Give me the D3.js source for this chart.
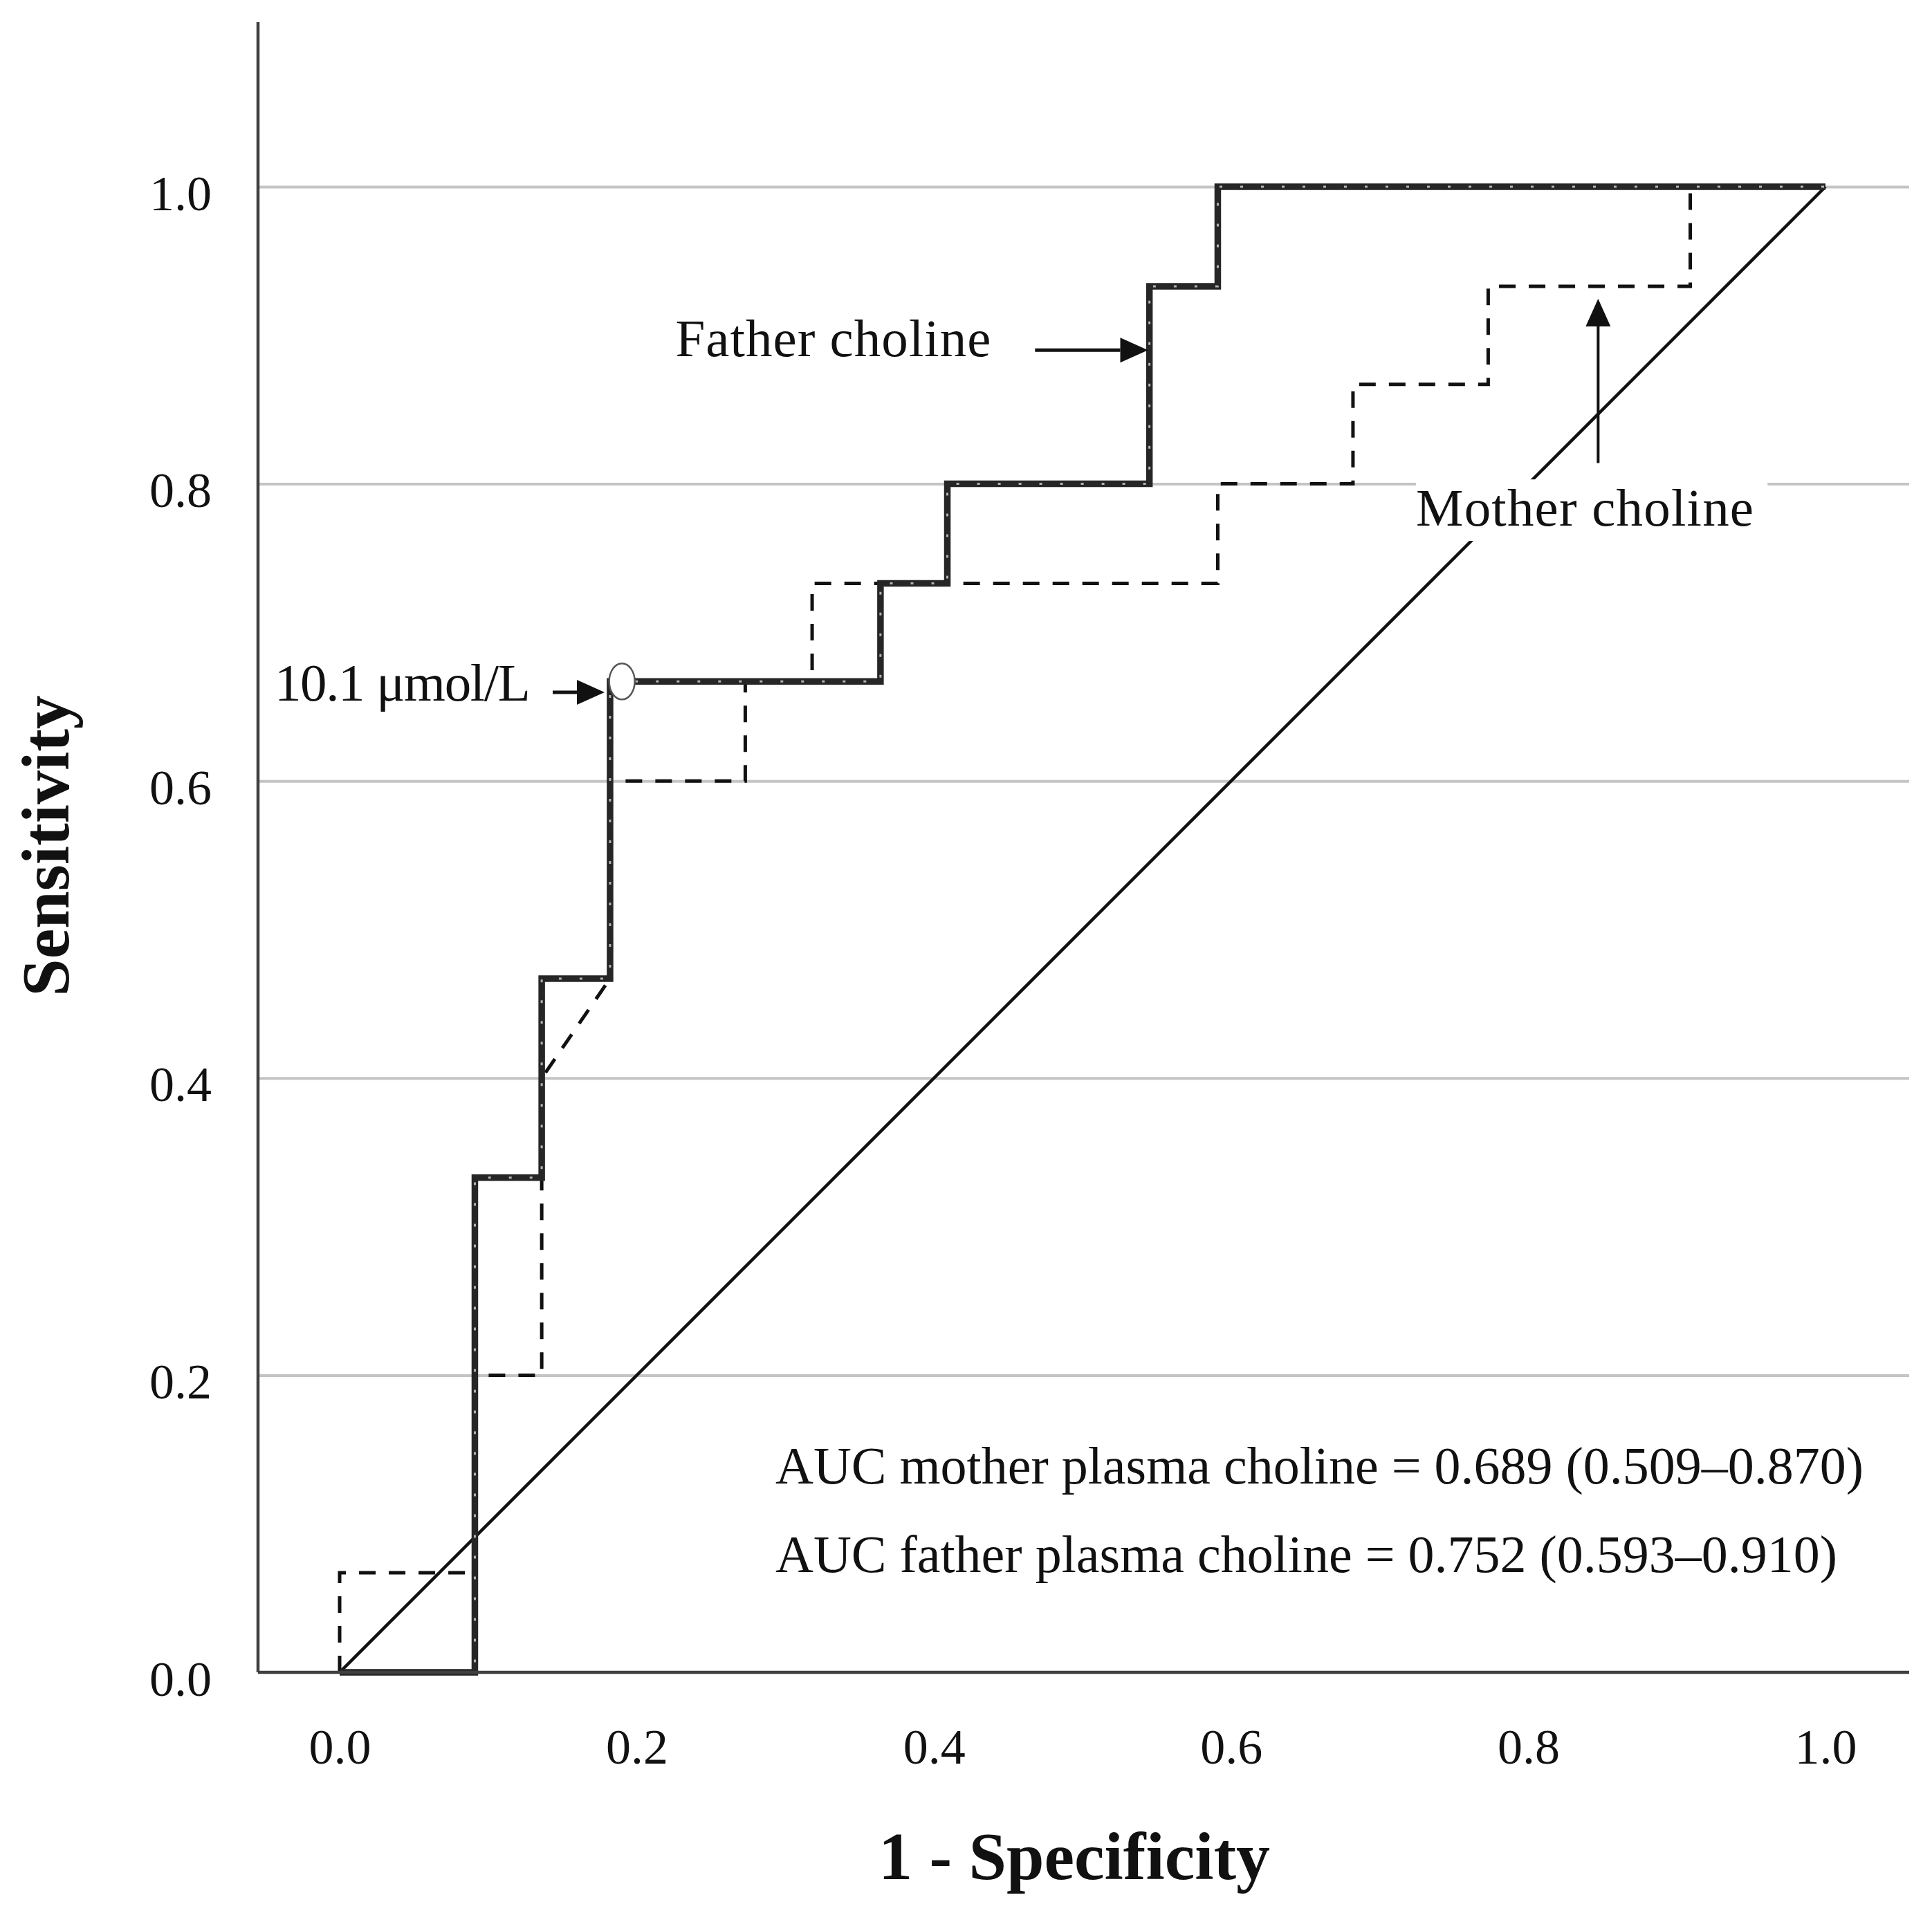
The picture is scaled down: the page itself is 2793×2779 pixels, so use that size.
<!DOCTYPE html>
<html lang="en">
<head>
<meta charset="UTF-8">
<title>ROC choline</title>
<script src="https://cdn.jsdelivr.net/npm/d3@7/dist/d3.min.js"></script>
<style>
    body { margin: 0; background: #fff; }
    svg text { font-family: "Liberation Serif", "Times New Roman", serif; fill: #111; }
    .tick text { font-size: 72px; }
    .title { font-weight: bold; font-size: 98px; }
    .note { font-size: 77px; }
    .auc { font-size: 76px; }
</style>
</head>
<body>
<svg id="chart" width="2793" height="2779"></svg>
<script>
// 1 - specificity / sensitivity
var fatherFpr = [0, 0.091, 0.091, 0.136, 0.136, 0.182, 0.182, 0.364, 0.364, 0.409, 0.409, 0.545, 0.545, 0.591, 0.591, 1.0];
var fatherTpr = [0, 0, 0.333, 0.333, 0.467, 0.467, 0.667, 0.667, 0.733, 0.733, 0.8, 0.8, 0.933, 0.933, 1.0, 1.0];

var motherFpr = [0, 0, 0.091, 0.091, 0.136, 0.136, 0.182, 0.182, 0.273, 0.273, 0.318, 0.318, 0.591, 0.591, 0.682, 0.682, 0.773, 0.773, 0.909, 0.909, 1.0];
var motherTpr = [0, 0.067, 0.067, 0.2, 0.2, 0.4, 0.467, 0.6, 0.6, 0.667, 0.667, 0.733, 0.733, 0.8, 0.8, 0.867, 0.867, 0.933, 0.933, 1.0, 1.0];

var refLine = [0, 1];
var cutoffPoint = [0.19, 0.667];

var xTicks = [0, 0.2, 0.4, 0.6, 0.8, 1.0];
var yTicks = [0, 0.2, 0.4, 0.6, 0.8, 1.0];

var aucLines = [
    "AUC mother plasma choline = 0.689 (0.509\u20130.870)",
    "AUC father plasma choline = 0.752 (0.593\u20130.910)"
];

var svg = d3.select("#chart");

var frameLeft = 373, frameTop = 32, frameRight = 2760;
var x = d3.scaleLinear().domain([0, 1]).range([491, 2639]);
var y = d3.scaleLinear().domain([0, 1]).range([2418, 270]);

// gridlines + y labels
var yAxis = svg.append("g")
    .attr("transform", "translate(" + frameLeft + ",0)")
    .call(d3.axisLeft(y).tickValues(yTicks).tickFormat(d3.format(".1f"))
        .tickSize(-(frameRight - frameLeft)).tickPadding(67));
yAxis.select(".domain").remove();
yAxis.selectAll(".tick line")
    .attr("stroke", "#c4c4c4").attr("stroke-width", 4)
    .attr("display", function (d) { return d === 0 ? "none" : null; });
yAxis.selectAll(".tick text").attr("dy", 33);

var xAxis = svg.append("g")
    .attr("transform", "translate(0," + y(0) + ")")
    .call(d3.axisBottom(x).tickValues(xTicks).tickFormat(d3.format(".1f")).tickSize(0));
xAxis.select(".domain").remove();
xAxis.selectAll(".tick text").attr("y", 132).attr("dy", 0);

function lineGen(xs, ys) {
    return d3.line().x(function (d, i) { return x(xs[i]); }).y(function (d, i) { return y(ys[i]); })(xs);
}

// reference diagonal
svg.append("path")
    .attr("d", lineGen(refLine, refLine))
    .attr("fill", "none").attr("stroke", "#111").attr("stroke-width", 4.5);

// mother (dashed)
svg.append("path")
    .attr("d", lineGen(motherFpr, motherTpr))
    .attr("fill", "none").attr("stroke", "#111").attr("stroke-width", 5)
    .attr("stroke-dasharray", "24,19");

// father (thick, with light seams)
var fatherD = lineGen(fatherFpr, fatherTpr);
svg.append("path")
    .attr("d", fatherD)
    .attr("fill", "none").attr("stroke", "#262626").attr("stroke-width", 9.5)
    .attr("stroke-linejoin", "miter");
svg.append("path")
    .attr("d", fatherD)
    .attr("fill", "none").attr("stroke", "#b4b4b4").attr("stroke-width", 3)
    .attr("stroke-dasharray", "4,26");

// axis frame
svg.append("line")
    .attr("x1", frameLeft).attr("x2", frameLeft).attr("y1", frameTop).attr("y2", y(0))
    .attr("stroke", "#404040").attr("stroke-width", 4.5);
svg.append("line")
    .attr("x1", frameLeft).attr("x2", frameRight).attr("y1", y(0)).attr("y2", y(0))
    .attr("stroke", "#404040").attr("stroke-width", 4.5);

// cut-off marker
svg.append("ellipse")
    .attr("cx", x(cutoffPoint[0])).attr("cy", y(cutoffPoint[1]))
    .attr("rx", 18.5).attr("ry", 26)
    .attr("fill", "#fff").attr("stroke", "#555").attr("stroke-width", 2.5);

// arrows
function arrow(x1, y1, x2, y2, w) {
    var px1 = x(x1), py1 = y(y1), px2 = x(x2), py2 = y(y2);
    var ang = Math.atan2(py2 - py1, px2 - px1);
    var len = 40, half = 18;
    var bx = px2 - len * Math.cos(ang), by = py2 - len * Math.sin(ang);
    svg.append("line")
        .attr("x1", px1).attr("y1", py1).attr("x2", bx).attr("y2", by)
        .attr("stroke", "#111").attr("stroke-width", w);
    var nx = -Math.sin(ang) * half, ny = Math.cos(ang) * half;
    svg.append("path")
        .attr("d", "M" + px2 + "," + py2 + "L" + (bx + nx) + "," + (by + ny) + "L" + (bx - nx) + "," + (by - ny) + "Z")
        .attr("fill", "#111");
}
arrow(0.468, 0.890, 0.544, 0.890, 5);
arrow(0.847, 0.814, 0.847, 0.9246, 4);
arrow(0.1434, 0.6597, 0.1783, 0.6597, 5);

// mother label with white box
svg.append("rect")
    .attr("x", x(0.7244)).attr("y", y(0.803))
    .attr("width", x(0.961) - x(0.7244)).attr("height", y(0.7616) - y(0.803))
    .attr("fill", "#fff");
svg.append("text").attr("class", "note")
    .attr("x", x(0.7244)).attr("y", y(0.772)).attr("textLength", 488)
    .text("Mother choline");

svg.append("text").attr("class", "note")
    .attr("x", x(0.226)).attr("y", y(0.886)).attr("textLength", 456)
    .text("Father choline");

svg.append("text").attr("class", "note")
    .attr("x", x(-0.0438)).attr("y", y(0.654)).attr("textLength", 370)
    .text("10.1 \u03bcmol/L");

svg.selectAll("text.auc")
    .data(aucLines)
    .enter().append("text")
    .attr("class", "auc")
    .attr("x", x(0.2933))
    .attr("y", function (d, i) { return y(i === 0 ? 0.127 : 0.0675); })
    .text(function (d) { return d; });

// axis titles
svg.append("text").attr("class", "title")
    .attr("text-anchor", "middle")
    .attr("transform", "translate(99,1223) rotate(-90)")
    .text("Sensitivity");
svg.append("text").attr("class", "title")
    .attr("text-anchor", "middle")
    .attr("x", 1553).attr("y", 2717)
    .text("1 - Specificity");
</script>
</body>
</html>
